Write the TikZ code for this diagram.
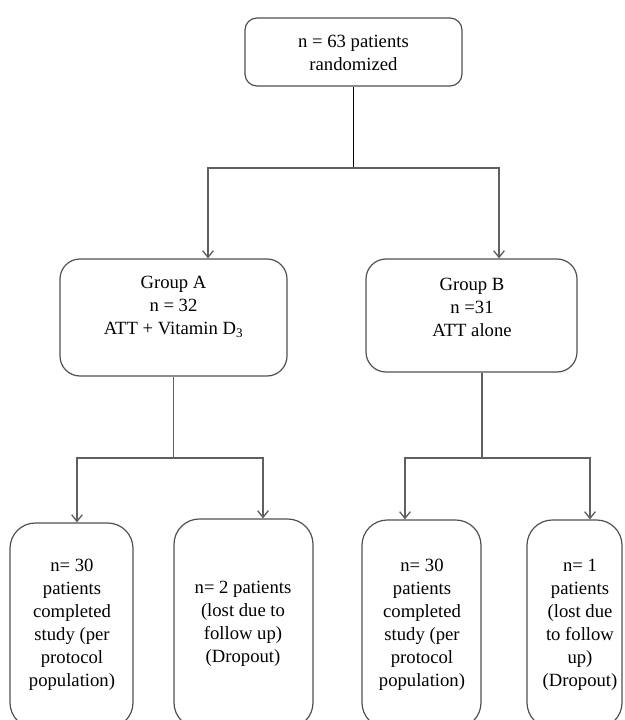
\documentclass[tikz,border=0pt]{standalone}
\usepackage{fontspec}
\setmainfont{Liberation Serif}
\usetikzlibrary{arrows.meta,calc}
\definecolor{boxgray}{HTML}{505050}
\definecolor{linegray}{HTML}{606060}
\begin{document}
\begin{tikzpicture}[x=0.75pt,y=-0.75pt,
  box/.style={draw=boxgray, line width=0.9pt, rounded corners=#1, inner sep=0pt, shape=rectangle},
  txt/.style={align=center, inner sep=0pt, font=\fontsize{14}{17.25}\selectfont},
  conn/.style={draw=linegray, line width=1pt},
  arr/.style={conn, -{Straight Barb[length=5pt,width=8pt]}}
]
\useasboundingbox (0,0) rectangle (624,720);
\clip (0,0) rectangle (624,720);
% boxes
\node[box=9pt, minimum width=162.75pt, minimum height=51pt] (top) at (353.5,52) {};
\node[box=15pt, minimum width=170.25pt, minimum height=87.75pt] (gA) at (173.5,317.5) {};
\node[box=15pt, minimum width=158.25pt, minimum height=84.75pt] (gB) at (471.5,315.5) {};
\node[box=19pt, minimum width=92.25pt, minimum height=153.75pt] (b1) at (71.5,625.5) {};
\node[box=19pt, minimum width=104.25pt, minimum height=156.75pt] (b2) at (243.5,623.5) {};
\node[box=19pt, minimum width=89.25pt, minimum height=156pt] (b3) at (421.5,624) {};
\node[box=19pt, minimum width=71.25pt, minimum height=156pt] (b4) at (574.5,624) {};
% texts
\node[txt] (ttop) at (353.5,53) {n = 63 patients\\randomized};
\node[txt] (tA) at (173.5,307) {Group A\\n = 32\\ATT + Vitamin D\textsubscript{3}};
\node[txt] (tB) at (472,307) {Group B\\n =31\\ATT alone};
\node[txt] (t1) at (72,625) {n= 30\\patients\\completed\\study (per\\protocol\\population)};
\node[txt] (t2) at (243,624) {n= 2 patients\\(lost due to\\follow up)\\(Dropout)};
\node[txt] (t3) at (422,625) {n= 30\\patients\\completed\\study (per\\protocol\\population)};
\node[txt] (t4) at (580,625) {n= 1\\patients\\(lost due\\to follow\\up)\\(Dropout)};
% connectors
\coordinate (j1) at (353.5,168);
\coordinate (j2) at (173.5,458);
\coordinate (j3) at (482,458);
\draw[line width=0.7pt, black] (top.south) -- (j1);
\draw[arr] (j1) -| ($(gA.north)+(34.5,0)$);
\draw[arr] (j1) -| ($(gB.north)+(27.5,0)$);
\draw[conn] (gA.south) -- (j2);
\draw[arr] (j2) -| ($(b1.north)+(5.5,0)$);
\draw[arr] (j2) -| ($(b2.north)+(19.5,0)$);
\draw[conn] ($(gB.south)+(10.5,0)$) -- (j3);
\draw[arr] (j3) -| ($(b3.north)+(-16.5,0)$);
\draw[arr] (j3) -| ($(b4.north)+(15.5,0)$);
\end{tikzpicture}
\end{document}
